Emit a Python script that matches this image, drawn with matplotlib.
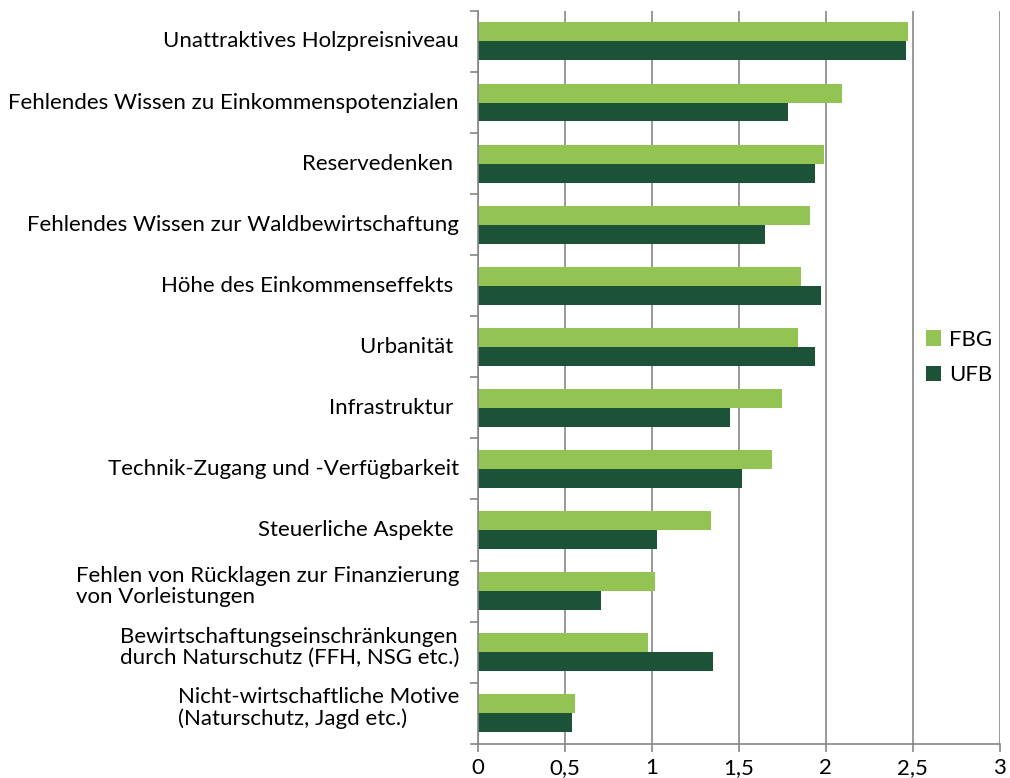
import numpy as np
import matplotlib
matplotlib.use("Agg")
import matplotlib.pyplot as plt

plt.rcParams['font.family'] = ['Lato', 'DejaVu Sans']

# Kategorien von oben nach unten
categories = [
    "Unattraktives Holzpreisniveau",
    "Fehlendes Wissen zu Einkommenspotenzialen",
    "Reservedenken ",
    "Fehlendes Wissen zur Waldbewirtschaftung",
    "Höhe des Einkommenseffekts ",
    "Urbanität ",
    "Infrastruktur ",
    "Technik-Zugang und -Verfügbarkeit",
    "Steuerliche Aspekte ",
    "Fehlen von Rücklagen zur Finanzierung\nvon Vorleistungen",
    "Bewirtschaftungseinschränkungen\ndurch Naturschutz (FFH, NSG etc.)",
    "Nicht-wirtschaftliche Motive\n(Naturschutz, Jagd etc.)",
]
fbg = [2.47, 2.09, 1.99, 1.91, 1.86, 1.84, 1.75, 1.69, 1.34, 1.02, 0.98, 0.56]
ufb = [2.46, 1.78, 1.94, 1.65, 1.97, 1.94, 1.45, 1.52, 1.03, 0.71, 1.35, 0.54]
xticks = [0, 0.5, 1, 1.5, 2, 2.5, 3]
xticklabels = ["0", "0,5", "1", "1,5", "2", "2,5", "3"]

col_fbg = "#92c353"
col_ufb = "#1c5237"
grau = "#868686"

fig = plt.figure(figsize=(10.1, 7.78), dpi=100)
ax = fig.add_axes([0.473, 0.044, 0.517, 0.942])

n = len(categories)
y = np.arange(n)
h = 0.31
ax.barh(y - h / 2, fbg, height=h, color=col_fbg, label="FBG")
ax.barh(y + h / 2, ufb, height=h, color=col_ufb, label="UFB")

ax.set_ylim(n - 0.5, -0.5)
ax.set_xlim(0, 3)
ax.set_xticks(xticks)
ax.set_xticklabels(xticklabels, fontsize=16)

# Kategorienbeschriftung als Text, Block rechtsbuendig
ax.set_yticks(np.arange(n + 1) - 0.5)
ax.set_yticklabels([])
for i, lab in enumerate(categories):
    dy = -0.08 if "\n" in lab else 0.0  # zweizeilige etwas hoeher
    ax.text(-0.036, i + dy, lab, ha="right", va="center", fontsize=16,
            multialignment="left", linespacing=1.08,
            transform=ax.get_yaxis_transform())

ax.xaxis.grid(True, color=grau, linewidth=1.2)
ax.set_axisbelow(True)
for s in ["top", "right"]:
    ax.spines[s].set_visible(False)
for s in ["left", "bottom"]:
    ax.spines[s].set_color(grau)
    ax.spines[s].set_linewidth(1.2)
ax.tick_params(axis="y", length=6, color=grau, width=1.2)
ax.tick_params(axis="x", length=6, color=grau, width=1.2, pad=4)

ax.legend(loc="center left", bbox_to_anchor=(0.82, 0.527), frameon=False,
          fontsize=16, handlelength=0.7, handleheight=0.7,
          handletextpad=0.35, labelspacing=0.7)

fig.savefig("out.png", dpi=100)
